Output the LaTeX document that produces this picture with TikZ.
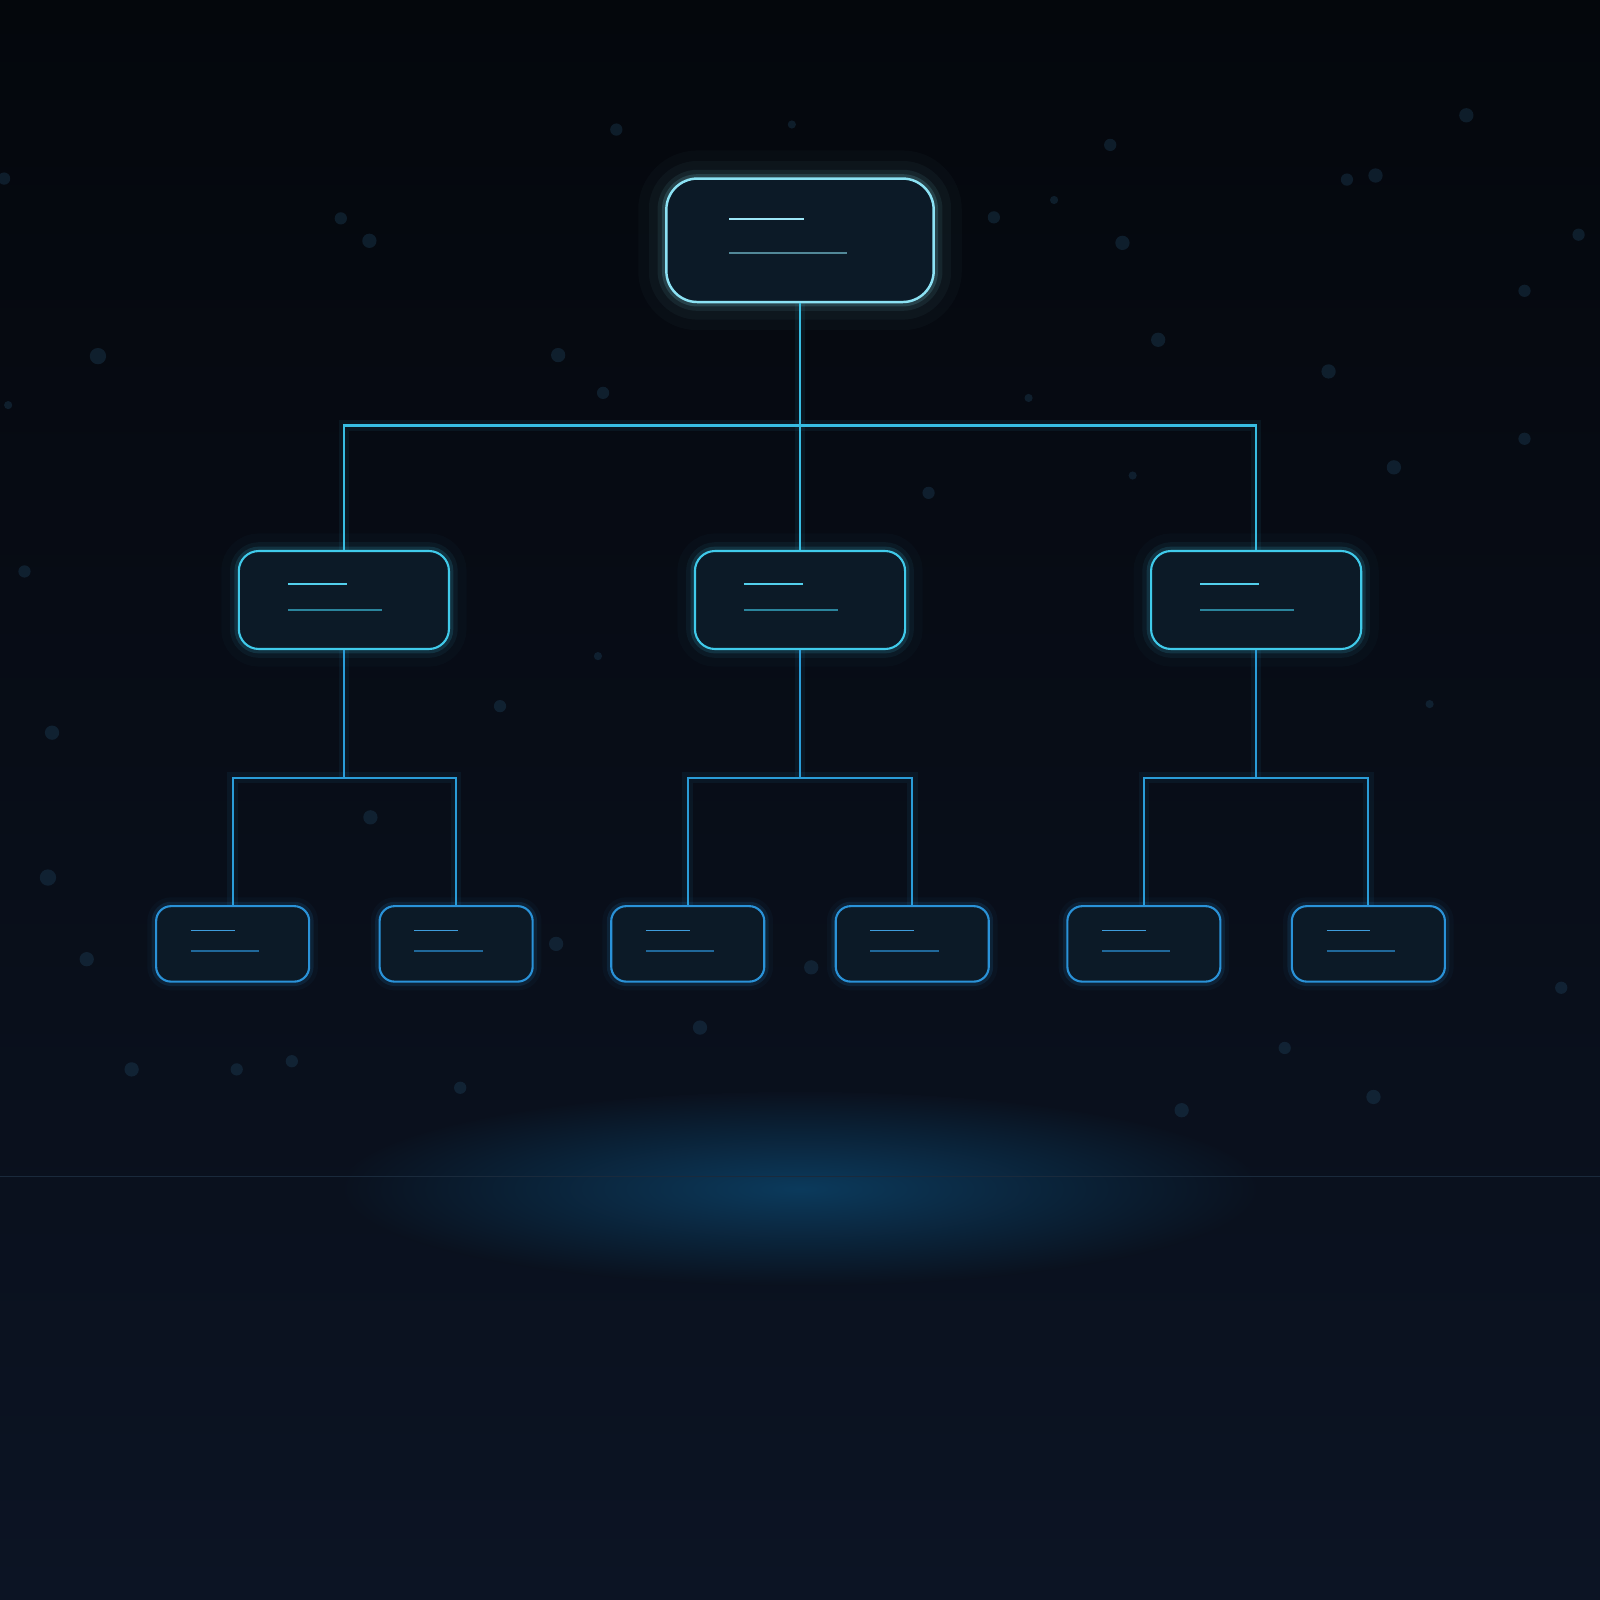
\documentclass[tikz,border=0pt]{standalone}
\usepackage{tikz}
\definecolor{bgtop}{HTML}{04070C}
\definecolor{bgbot}{HTML}{0C1424}
\definecolor{bgmid}{HTML}{0A111E}
\definecolor{boxfill}{HTML}{0C1A27}
\definecolor{topedge}{HTML}{8CE2F4}
\definecolor{midedge}{HTML}{40CAEA}
\definecolor{leafedge}{HTML}{2A92D8}
\definecolor{wirecol}{HTML}{38BDE2}
\definecolor{wirelow}{HTML}{2A9CD8}
\definecolor{glowblue}{HTML}{0B3A5C}
\definecolor{dust}{HTML}{24506E}
\definecolor{horizon}{HTML}{1A2A3C}
\tikzstyle{topbox} = [rectangle, rounded corners=0.31cm,
minimum width=2.674cm,
minimum height=1.235cm,
inner sep=0pt,
fill=boxfill, draw=topedge, line width=0.7pt,
preaction={draw=topedge, line width=16pt, draw opacity=0.025},
preaction={draw=topedge, line width=10pt, draw opacity=0.04},
preaction={draw=topedge, line width=5pt, draw opacity=0.08},
preaction={draw=topedge, line width=2.5pt, draw opacity=0.15}]
\tikzstyle{midbox} = [rectangle, rounded corners=0.2cm,
minimum width=2.102cm,
minimum height=0.98cm,
inner sep=0pt,
fill=boxfill, draw=midedge, line width=0.6pt,
preaction={draw=midedge, line width=10pt, draw opacity=0.025},
preaction={draw=midedge, line width=5pt, draw opacity=0.06},
preaction={draw=midedge, line width=2.5pt, draw opacity=0.14}]
\tikzstyle{leafbox} = [rectangle, rounded corners=0.15cm,
minimum width=1.531cm,
minimum height=0.755cm,
inner sep=0pt,
fill=boxfill, draw=leafedge, line width=0.6pt,
preaction={draw=leafedge, line width=5pt, draw opacity=0.04},
preaction={draw=leafedge, line width=2.5pt, draw opacity=0.12}]
\tikzstyle{wire} = [draw=wirecol, line width=0.6pt,
preaction={draw=wirecol, line width=3pt, draw opacity=0.07}]
\tikzstyle{lowwire} = [draw=wirelow, line width=0.55pt,
preaction={draw=wirelow, line width=3pt, draw opacity=0.07}]
\tikzstyle{txtline} = [line width=0.5pt]

\begin{document}
\begin{tikzpicture}[x=0.010204cm, y=-0.010204cm]
		% backdrop
		\useasboundingbox (0,0) rectangle (1568,1568);
		\shade [top color=bgtop, bottom color=bgbot] (0,0) rectangle (1568,1568);
		\shade [inner color=glowblue, outer color=bgmid] (784,1165) ellipse (450 and 95);
		\draw [draw=horizon, line width=0.45pt] (0,1153) -- (1568,1153);
		\foreach \px/\py/\r in {604/127/6, 776/122/4, 1088/142/6, 1437/113/7, 1348/172/7, 1320/176/6,
			1033/196/4, 974/213/6, 1100/238/7, 1547/230/6, 334/214/6, 362/236/7, 96/349/8, 547/348/7,
			591/385/6, 1135/333/7, 1302/364/7, 1494/285/6, 1366/458/7, 1494/430/6, 910/483/6, 1008/390/4,
			51/718/7, 490/692/6, 363/801/7, 47/860/8, 85/940/7, 545/925/7, 795/948/7, 686/1007/7,
			1294/948/6, 1530/968/6, 129/1048/7, 232/1048/6, 286/1040/6, 451/1066/6, 1346/1075/7,
			1158/1088/7, 1259/1027/6, 1110/466/4, 24/560/6, 4/175/6, 8/397/4, 586/643/4, 1401/690/4}
			\fill [dust, opacity=0.3] (\px,\py) circle (\r);

		% boxes
		\node (root) [topbox] at (784,235.5) {};
		\node (left) [midbox] at (337,588) {};
		\node (centre) [midbox] at (784,588) {};
		\node (right) [midbox] at (1231,588) {};
		\node (leafA) [leafbox] at (228,925) {};
		\node (leafB) [leafbox] at (447,925) {};
		\node (leafC) [leafbox] at (674,925) {};
		\node (leafD) [leafbox] at (894,925) {};
		\node (leafE) [leafbox] at (1121,925) {};
		\node (leafF) [leafbox] at (1341,925) {};

		% junctions
		\coordinate (jroot) at (784,417);
		\coordinate (jleft) at (337,762);
		\coordinate (jcentre) at (784,762);
		\coordinate (jright) at (1231,762);

		\draw [wire] (root.south) -- (centre.north);
		\draw [wire] (left.north) |- (jroot) -| (right.north);
		\draw [lowwire] (left.south) -- (jleft);
		\draw [lowwire] (leafA.north) |- (jleft) -| (leafB.north);
		\draw [lowwire] (centre.south) -- (jcentre);
		\draw [lowwire] (leafC.north) |- (jcentre) -| (leafD.north);
		\draw [lowwire] (right.south) -- (jright);
		\draw [lowwire] (leafE.north) |- (jright) -| (leafF.north);

		% placeholder text lines
		\draw [txtline, draw=topedge!85] (root.north west) ++(63,41) -- ++(73,0);
		\draw [txtline, draw=topedge!55!boxfill] (root.north west) ++(63,74) -- ++(115,0);
		\foreach \b in {left, centre, right} {
			\draw [txtline, draw=midedge!90] (\b.north west) ++(49,33) -- ++(58,0);
			\draw [txtline, draw=midedge!60!boxfill] (\b.north west) ++(49,59) -- ++(92,0);
		}
		\foreach \b in {leafA, leafB, leafC, leafD, leafE, leafF} {
			\draw [txtline, draw=leafedge!90] (\b.north west) ++(35,25) -- ++(43,0);
			\draw [txtline, draw=leafedge!65!boxfill] (\b.north west) ++(35,45) -- ++(67,0);
		}
	\end{tikzpicture}
\end{document}
